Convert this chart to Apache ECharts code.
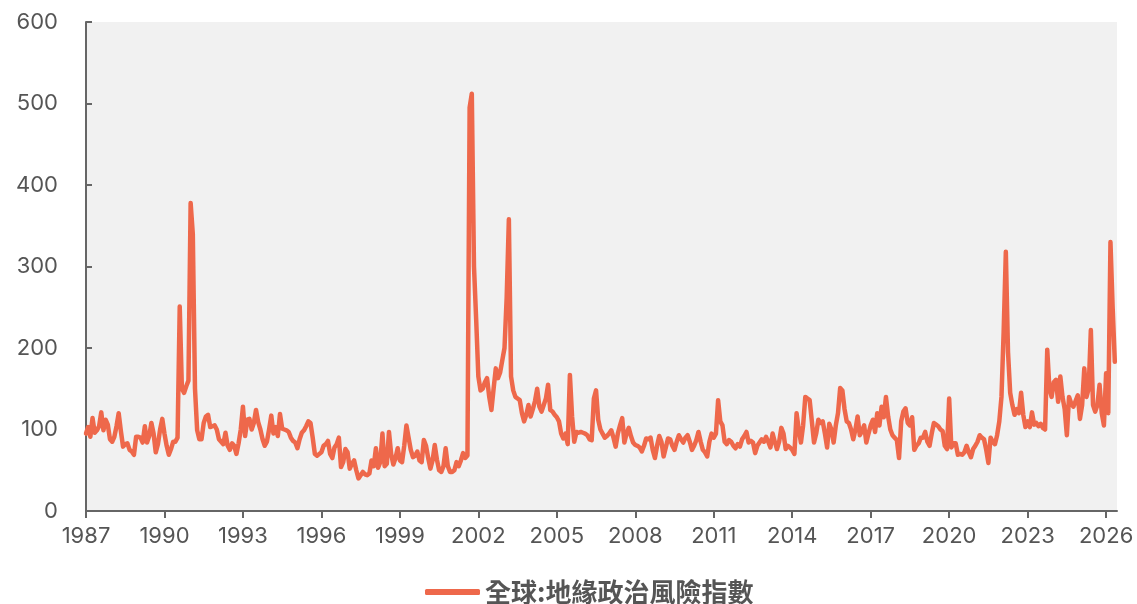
<!DOCTYPE html>
<html>
<head>
<meta charset="utf-8">
<title>全球地緣政治風險指數</title>
<script src="https://cdn.jsdelivr.net/npm/echarts@6/dist/echarts.min.js"></script>
<style>
  html, body { margin: 0; padding: 0; background: #fff; }
  #chart { width: 1137px; height: 604px; }
</style>
</head>
<body>
<div id="chart"></div>
<script>
// monthly series, Jan 1987 onwards (one row per year)
var seriesName = '全球:地緣政治風險指數';
var firstYear = 1987;
var lastMonth = '2026-06';
var tickStep = 36; // a label every 3 years

var gpr = [
  95, 103, 91, 114, 96, 99, 104, 121, 99, 112, 106, 88,        // 1987
  85, 91, 104, 120, 98, 79, 82, 83, 75, 73, 69, 91,            // 1988
  91, 90, 84, 104, 84, 92, 108, 95, 72, 82, 100, 113,          // 1989
  95, 80, 69, 76, 85, 85, 90, 251, 150, 145, 153, 160,         // 1990
  378, 340, 150, 99, 88, 88, 108, 116, 118, 103, 104, 105,     // 1991
  100, 88, 85, 82, 96, 80, 75, 83, 80, 70, 83, 100,            // 1992
  128, 92, 112, 113, 100, 108, 124, 109, 100, 88, 80, 85,      // 1993
  100, 117, 95, 103, 92, 119, 101, 100, 99, 97, 90, 86,        // 1994
  84, 77, 88, 96, 99, 104, 110, 108, 90, 70, 68, 70,           // 1995
  72, 80, 82, 86, 70, 65, 78, 82, 90, 54, 60, 76,              // 1996
  72, 52, 58, 62, 50, 40, 44, 48, 45, 44, 46, 62,              // 1997
  55, 77, 53, 60, 95, 55, 58, 97, 70, 57, 65, 77,              // 1998
  62, 60, 80, 105, 90, 75, 66, 68, 73, 62, 60, 87,             // 1999
  80, 65, 52, 62, 81, 63, 50, 48, 55, 77, 55, 48,              // 2000
  48, 50, 60, 55, 62, 71, 65, 68, 495, 512, 300, 235,          // 2001
  165, 148, 150, 158, 163, 140, 124, 150, 175, 163, 170, 185,  // 2002
  200, 262, 358, 165, 148, 140, 138, 136, 120, 110, 118, 130,  // 2003
  116, 125, 135, 150, 128, 122, 130, 138, 155, 124, 122, 118,  // 2004
  115, 110, 95, 89, 95, 82, 167, 116, 85, 97, 96, 97,          // 2005
  96, 95, 93, 88, 87, 138, 148, 112, 100, 95, 90, 92,          // 2006
  95, 99, 90, 79, 95, 105, 114, 84, 95, 102, 92, 84,           // 2007
  81, 80, 78, 73, 80, 89, 88, 90, 75, 65, 80, 92,              // 2008
  85, 67, 78, 89, 88, 80, 75, 85, 93, 88, 84, 90,              // 2009
  93, 85, 75, 80, 87, 97, 85, 75, 72, 67, 85, 95,              // 2010
  90, 95, 136, 110, 105, 85, 82, 87, 85, 80, 77, 82,           // 2011
  79, 88, 92, 97, 84, 86, 84, 71, 80, 84, 88, 85,              // 2012
  91, 85, 78, 95, 85, 76, 85, 102, 95, 76, 80, 78,             // 2013
  75, 70, 120, 100, 84, 105, 140, 138, 136, 110, 84, 95,       // 2014
  112, 108, 110, 95, 78, 107, 100, 84, 105, 120, 151, 148,     // 2015
  125, 110, 108, 100, 88, 100, 116, 93, 98, 105, 84, 95,       // 2016
  105, 112, 97, 120, 105, 128, 115, 140, 116, 100, 93, 90,     // 2017
  87, 65, 110, 122, 126, 108, 105, 115, 75, 80, 83, 90,        // 2018
  90, 97, 85, 80, 95, 108, 106, 104, 100, 98, 80, 76,          // 2019
  138, 78, 83, 83, 69, 70, 69, 72, 80, 72, 66, 76,             // 2020
  80, 85, 93, 90, 88, 75, 59, 90, 85, 82, 93, 110,             // 2021
  140, 220, 318, 195, 145, 130, 118, 125, 120, 145, 118, 103,  // 2022
  110, 103, 121, 106, 108, 104, 107, 102, 100, 198, 150, 140,  // 2023
  158, 161, 134, 165, 140, 125, 93, 140, 132, 128, 135, 142,   // 2024
  113, 130, 175, 140, 150, 222, 130, 122, 130, 155, 120, 105,  // 2025
  169, 120, 330, 250, 183                                      // 2026
];

var yTicks = [0, 100, 200, 300, 400, 500, 600];

var months = [];
(function() {
  var y = firstYear, m = 1, key = '';
  while (key !== lastMonth) {
    key = y + '-' + (m < 10 ? '0' + m : m);
    months.push(key);
    m++;
    if (m > 12) { m = 1; y++; }
  }
})();

var chart = echarts.init(document.getElementById('chart'), null, { renderer: 'canvas' });

var axisGrey = '#666666',
    labelGrey = '#555555',
    lineRed = '#ee684b';

function showTick(index) {
  return index % tickStep === 0;
}

var option = {
  animation: false,
  backgroundColor: '#ffffff',
  grid: {
    left: 86,
    right: 20,
    top: 22,
    bottom: 93,
    show: true,
    backgroundColor: '#f1f1f1',
    borderWidth: 0,
    outerBoundsMode: 'none'
  },
  legend: {
    data: [{ name: seriesName, icon: 'roundRect' }],
    left: 420,
    top: 574,
    itemWidth: 55,
    itemHeight: 6,
    itemGap: 5,
    textStyle: {
      fontFamily: '"Noto Sans CJK TC", "Noto Sans CJK SC", sans-serif',
      fontWeight: 'bold',
      fontSize: 26,
      color: labelGrey
    }
  },
  xAxis: {
    type: 'category',
    data: months,
    boundaryGap: false,
    axisLine: { lineStyle: { color: axisGrey, width: 2 } },
    axisTick: {
      interval: showTick,
      length: 7,
      lineStyle: { color: axisGrey, width: 2 }
    },
    axisLabel: {
      interval: showTick,
      margin: 14,
      color: labelGrey,
      fontFamily: 'Inter, "DejaVu Sans", sans-serif',
      fontSize: 22,
      formatter: function(v) { return v.slice(0, 4); }
    },
    splitLine: { show: false }
  },
  yAxis: {
    type: 'value',
    min: yTicks[0],
    max: yTicks[yTicks.length - 1],
    interval: 100,
    axisLine: { show: true, lineStyle: { color: axisGrey, width: 2 } },
    axisTick: {
      show: true,
      inside: true,
      length: 6,
      lineStyle: { color: axisGrey, width: 2 }
    },
    axisLabel: {
      margin: 28,
      color: labelGrey,
      fontFamily: 'Inter, "DejaVu Sans", sans-serif',
      fontSize: 22
    },
    splitLine: { show: false }
  },
  series: [{
    name: seriesName,
    type: 'line',
    data: gpr,
    symbol: 'none',
    smooth: false,
    itemStyle: { color: lineRed },
    lineStyle: { color: lineRed, width: 4.5, join: 'round', cap: 'round' }
  }]
};

chart.setOption(option);

window.onresize = function() {
  chart.resize();
};
</script>
</body>
</html>
